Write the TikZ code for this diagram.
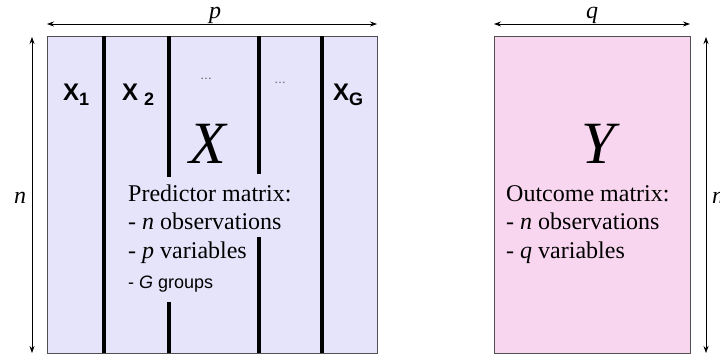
\documentclass[tikz,border=0pt]{standalone}
\usepackage{fontspec}
\setmainfont{Liberation Serif}
\setsansfont{Liberation Sans}
\usetikzlibrary{positioning, arrows.meta, calc}
\definecolor{predX}{RGB}{229,228,251}
\definecolor{outY}{RGB}{249,214,240}
\definecolor{frameC}{RGB}{80,80,80}
\tikzstyle{dimarrow} = [{Stealth[length=7pt,width=5pt]}-{Stealth[length=7pt,width=5pt]}, line width=0.7pt]
\tikzstyle{sep} = [line width=4pt]
\tikzstyle{mat} = [draw=frameC, line width=0.8pt, inner sep=0pt, anchor=north west]
\tikzstyle{grp} = [anchor=base west, inner sep=0pt, font=\sffamily\bfseries\fontsize{24}{24}\selectfont]
\newcommand{\grpsub}[1]{\raisebox{-5pt}{\fontsize{18}{18}\selectfont #1}}

\begin{document}
\begin{tikzpicture}[x=1pt, y=-1pt, font=\fontsize{24}{28.5}\selectfont]
\useasboundingbox (0,0) rectangle (720,356);
% matrices (pixel coords, y pointing down)
\node[mat, fill=predX, minimum width=330pt, minimum height=317pt] (Xbox) at (47,36) {};
\node[mat, fill=outY, minimum width=196pt, minimum height=317pt] (Ybox) at (494,36) {};
% group separators
\draw[sep] (104,36) -- (104,353);
\draw[sep] (169,36) -- (169,177);
\draw[sep] (169,302) -- (169,353);
\draw[sep] (259,36) -- (259,174);
\draw[sep] (259,237) -- (259,353);
\draw[sep] (322,36) -- (322,353);
% dimension arrows
\coordinate (pL) at (47,24);  \coordinate (pR) at (377,24);
\coordinate (qL) at (494,24); \coordinate (qR) at (690,24);
\coordinate (nXt) at (32,37);  \coordinate (nXb) at (32,353);
\coordinate (nYt) at (706,37); \coordinate (nYb) at (706,353);
\draw[dimarrow] (pL) -- (pR);
\draw[dimarrow] (qL) -- (qR);
\draw[dimarrow] (nXt) -- (nXb);
\draw[dimarrow] (nYt) -- (nYb);
\node[anchor=base, inner sep=0pt] (plab) at (215,18) {\textit{p}};
\node[anchor=base, inner sep=0pt] (qlab) at (592,18) {\textit{q}};
\node[anchor=base, inner sep=0pt] (nXlab) at (20,203) {\textit{n}};
\node[anchor=base, inner sep=0pt] (nYlab) at (718,203) {\textit{n}};
% group labels
\node[grp] (x1) at (63,100) {X\grpsub{1}};
\node[grp] (x2) at (122,100) {X\hspace{6pt}\grpsub{2}};
\node[grp] (xG) at (333,100) {X\grpsub{G}};
\node[anchor=base, text=black!70, font=\sffamily\fontsize{12}{12}\selectfont] (dots1) at (206,79) {\textellipsis};
\node[anchor=base, text=black!70, font=\sffamily\fontsize{12}{12}\selectfont] (dots2) at (280,83) {\textellipsis};
% matrix names
\node[anchor=base, inner sep=0pt, font=\fontsize{60}{60}\selectfont] (bigX) at (209,163) {\textit{X}};
\node[anchor=base, inner sep=0pt, font=\fontsize{60}{60}\selectfont] (bigY) at (601,163) {\textit{Y}};
% descriptions (base = last line)
\node[anchor=base west, inner sep=0pt, align=left] (Xdesc) at (128,258)
  {Predictor matrix:\\- \textit{n} observations\\- \textit{p} variables};
\node[anchor=base west, inner sep=0pt, font=\sffamily\fontsize{18}{18}\selectfont] (Xgrp) at (128,288)
  {- \textit{G} groups};
\node[anchor=base west, inner sep=0pt, align=left] (Ydesc) at (506,258)
  {Outcome matrix:\\- \textit{n} observations\\- \textit{q} variables};
\end{tikzpicture}
\end{document}
